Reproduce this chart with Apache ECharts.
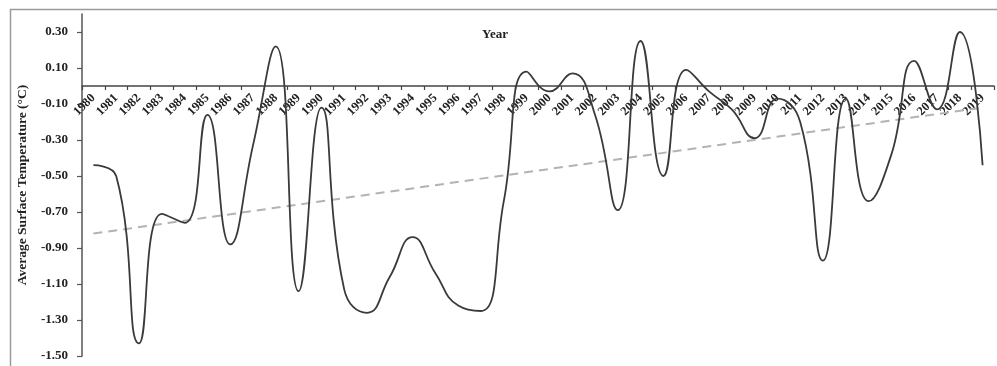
<!DOCTYPE html>
<html>
<head>
<meta charset="utf-8">
<script src="https://cdn.jsdelivr.net/npm/echarts@6/dist/echarts.min.js"></script>
<style>
html,body{margin:0;padding:0;background:#fff;}
#chart{width:997px;height:366px;}
</style>
</head>
<body>
<div id="chart"></div>
<script>
const years = ['1980','1981','1982','1983','1984','1985','1986','1987','1988','1989',
  '1990','1991','1992','1993','1994','1995','1996','1997','1998','1999',
  '2000','2001','2002','2003','2004','2005','2006','2007','2008','2009',
  '2010','2011','2012','2013','2014','2015','2016','2017','2018','2019'];
const temperature = [-0.44,-0.50,-1.43,-0.71,-0.76,-0.16,-0.88,-0.33,0.22,-1.14,
  -0.12,-1.13,-1.26,-1.06,-0.84,-1.04,-1.22,-1.25,-0.64,0.08,
  -0.03,0.07,-0.16,-0.69,0.25,-0.50,0.09,-0.03,-0.13,-0.29,
  -0.07,-0.20,-0.97,-0.07,-0.64,-0.38,0.14,-0.13,0.30,-0.44];
const trendStart = -0.82;
const trendEnd = -0.12;
const yTicks = [-1.5,-1.3,-1.1,-0.9,-0.7,-0.5,-0.3,-0.1,0.1,0.3];
const yMin = -1.5, yMax = 0.4;
const yTitle = 'Average Surface Temperature (°C)';
const xTitle = 'Year';

const trendData = years.map((y, i) => i === 0 ? trendStart : (i === years.length - 1 ? trendEnd : null));
const FONT = 'Liberation Serif';

const gridTop = 14, gridBottom = 10, H = 366;
const gridH = H - gridTop - gridBottom;
// move the category axis (line, ticks, labels) up to the zero value
const zeroOffset = -gridH * (0 - yMin) / (yMax - yMin);

const chart = echarts.init(document.getElementById('chart'), null, {renderer: 'canvas'});
chart.setOption({
  backgroundColor: '#fff',
  animation: false,
  graphic: [
    {type: 'rect', left: 8, top: 7, shape: {width: 1100, height: 500},
     style: {fill: 'none', stroke: '#9a9a9a', lineWidth: 1.5}, silent: true, z: -1},
    {type: 'text', x: 495, y: 35, style: {text: xTitle, font: 'bold 13px "Liberation Serif"',
      fill: '#222', textAlign: 'center', textVerticalAlign: 'middle'}}
  ],
  grid: {left: 82, right: 3, top: gridTop, bottom: gridBottom, outerBoundsMode: 'none', containLabel: false},
  xAxis: {
    type: 'category',
    data: years,
    boundaryGap: true,
    position: 'bottom',
    offset: zeroOffset,
    axisLine: {onZero: false, lineStyle: {color: '#444', width: 1.5}},
    axisTick: {show: true, length: 4, lineStyle: {color: '#444', width: 1.2}},
    axisLabel: {interval: 0, rotate: 45, margin: 10, fontFamily: FONT, fontWeight: 'bold',
      fontSize: 12.5, color: '#222', hideOverlap: false},
    splitLine: {show: false}
  },
  yAxis: {
    type: 'value',
    min: yMin,
    max: yMax,
    name: yTitle,
    nameLocation: 'middle',
    nameRotate: 90,
    nameGap: 52,
    nameTextStyle: {fontFamily: FONT, fontWeight: 'bold', fontSize: 13.5, color: '#222'},
    axisLine: {show: true, lineStyle: {color: '#555', width: 1.5}},
    axisTick: {show: true, length: 5, customValues: yTicks, lineStyle: {color: '#555', width: 1.2}},
    axisLabel: {customValues: yTicks, margin: 14, fontFamily: FONT, fontWeight: 'bold', fontSize: 13,
      color: '#222', formatter: v => v.toFixed(2)},
    splitLine: {show: false}
  },
  series: [
    {type: 'line', data: trendData, connectNulls: true, symbol: 'none',
     lineStyle: {color: '#b3b3b3', width: 2, type: [9, 6]}, z: 1},
    {type: 'line', data: temperature, smooth: 0.5, symbol: 'none',
     lineStyle: {color: '#3a3a3a', width: 1.8}, z: 2}
  ]
});
</script>
</body>
</html>
